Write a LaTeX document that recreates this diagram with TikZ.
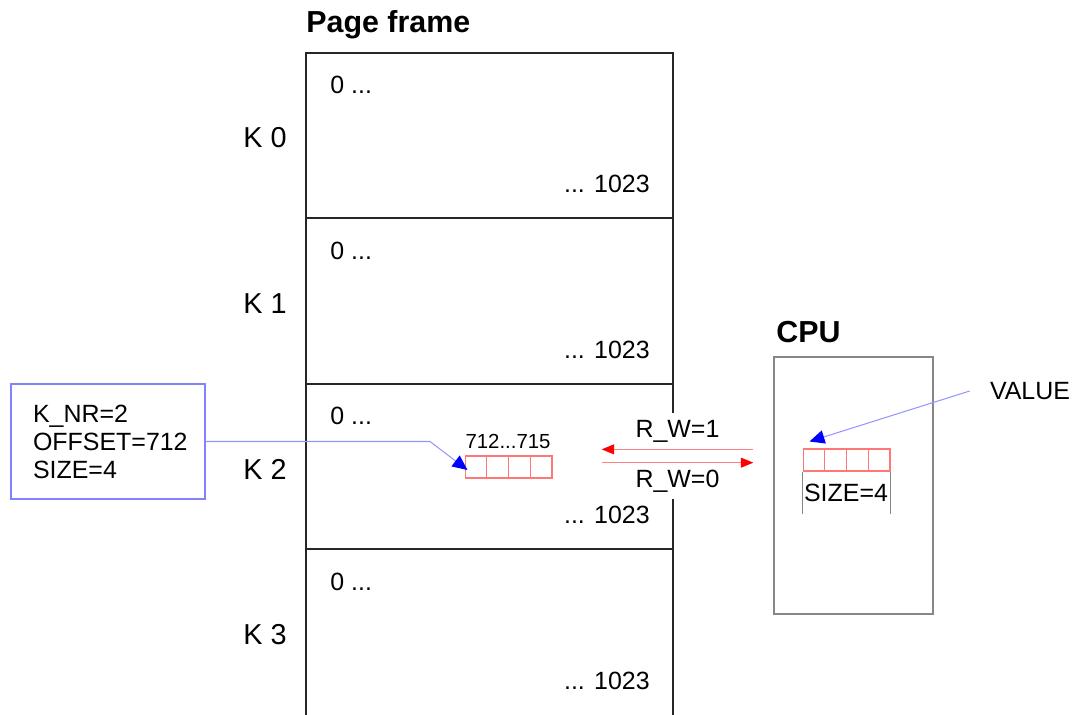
\documentclass[tikz,border=0pt]{standalone}
\usepackage{fontspec}
\setmainfont{Liberation Sans}
\usetikzlibrary{arrows.meta,positioning}

\definecolor{infoblue}{RGB}{130,130,255}
\definecolor{linkblue}{RGB}{150,150,255}
\definecolor{tipblue}{RGB}{0,0,255}
\definecolor{cellred}{RGB}{255,120,120}
\definecolor{rwred}{RGB}{255,130,130}
\definecolor{tipred}{RGB}{255,0,0}
\definecolor{cpugray}{RGB}{135,135,135}

\tikzset{
  lbl/.style={inner sep=0pt, font=\fontsize{14.2}{15.9}\selectfont},
  klbl/.style={inner sep=0pt, font=\fontsize{16.4}{19}\selectfont},
  title/.style={inner sep=0pt, anchor=base west, font=\fontsize{17.3}{20}\selectfont\bfseries},
  frameline/.style={draw=black!85, line width=1.1pt},
  cell/.style={draw=cellred, line width=0.6pt, minimum width=0.435cm, minimum height=0.44cm, inner sep=0pt},
  link/.style={draw=linkblue, line width=0.6pt, -{Triangle[color=tipblue, length=0.3cm, width=0.27cm]}},
  rwarrow/.style={draw=rwred, line width=0.6pt, -{Triangle[color=tipred, length=0.25cm, width=0.2cm]}}
}

\begin{document}
\begin{tikzpicture}[x=0.02cm, y=-0.02cm]
  \useasboundingbox (0,0) rectangle (1089,714);

  % page frame
  \node[title] (pf) at (306,32) {Page frame};
  \draw[frameline] (306,53) rectangle (673,720);
  \draw[frameline] (306,218) -- (673,218);
  \draw[frameline] (306,384) -- (673,384);
  \draw[frameline] (306,549) -- (673,549);

  \node[klbl] (k0) at (265,138) {K 0};
  \node[klbl] (k1) at (265,304) {K 1};
  \node[klbl] (k2) at (265,469) {K 2};
  \node[klbl] (k3) at (265,635) {K 3};

  \node[lbl, anchor=west] (lo0) at (330,85) {0 ...};
  \node[lbl, anchor=west] (lo1) at (330,251) {0 ...};
  \node[lbl, anchor=west] (lo2) at (330,416) {0 ...};
  \node[lbl, anchor=west] (lo3) at (330,582) {0 ...};
  \node[lbl, anchor=east] (hi0) at (650,184) {... 1023};
  \node[lbl, anchor=east] (hi1) at (650,350) {... 1023};
  \node[lbl, anchor=east] (hi2) at (650,515) {... 1023};
  \node[lbl, anchor=east] (hi3) at (650,681) {... 1023};

  % bytes in K 2
  \node[lbl, font=\fontsize{11.6}{13}\selectfont] (addr) at (508,441) {712...715};
  \node[cell] (m0) at (475.9,467) {};
  \node[cell] (m1) at (497.6,467) {};
  \node[cell] (m2) at (519.4,467) {};
  \node[cell] (m3) at (541.1,467) {};

  % parameters
  \node[lbl, draw=infoblue, line width=0.7pt, minimum width=3.88cm, minimum height=2.3cm,
        text width=3.0cm, inner xsep=0.44cm, align=left] (info) at (108,441.5)
        {K\_NR=2\\OFFSET=712\\SIZE=4};
  \coordinate (bend) at (430,441.5);
  \draw[link] (info.east) -- (bend) -- ([shift={(3,3)}]m0.west);

  % CPU
  \node[title] (cpu) at (776,342) {CPU};
  \draw[draw=cpugray, line width=0.8pt] (774,357) rectangle (933,614);
  \node[cell] (r0) at (813.9,460) {};
  \node[cell] (r1) at (835.6,460) {};
  \node[cell] (r2) at (857.4,460) {};
  \node[cell] (r3) at (879.1,460) {};
  \draw[cpugray, line width=0.6pt] (r0.south west) -- ++(0,42);
  \draw[cpugray, line width=0.6pt] (r3.south east) -- ++(0,42);
  \node[lbl] (size) at (846,493) {SIZE=4};

  \node[lbl, inner xsep=0.4cm] (value) at (1030,391) {VALUE};
  \draw[link] (value.west) -- ([shift={(7,-7)}]r0.north west);

  % read / write
  \node[lbl, fill=white, minimum width=3.02cm, minimum height=0.72cm] (rw1) at (677.5,431) {R\_W=1};
  \node[lbl, fill=white, minimum width=3.02cm, minimum height=0.72cm] (rw0) at (677.5,481) {R\_W=0};
  \fill[white] (rw1.south west) rectangle (rw0.north east);
  \draw[rwarrow] (rw1.south east) -- (rw1.south west);
  \draw[rwarrow] (rw0.north west) -- (rw0.north east);
\end{tikzpicture}
\end{document}
